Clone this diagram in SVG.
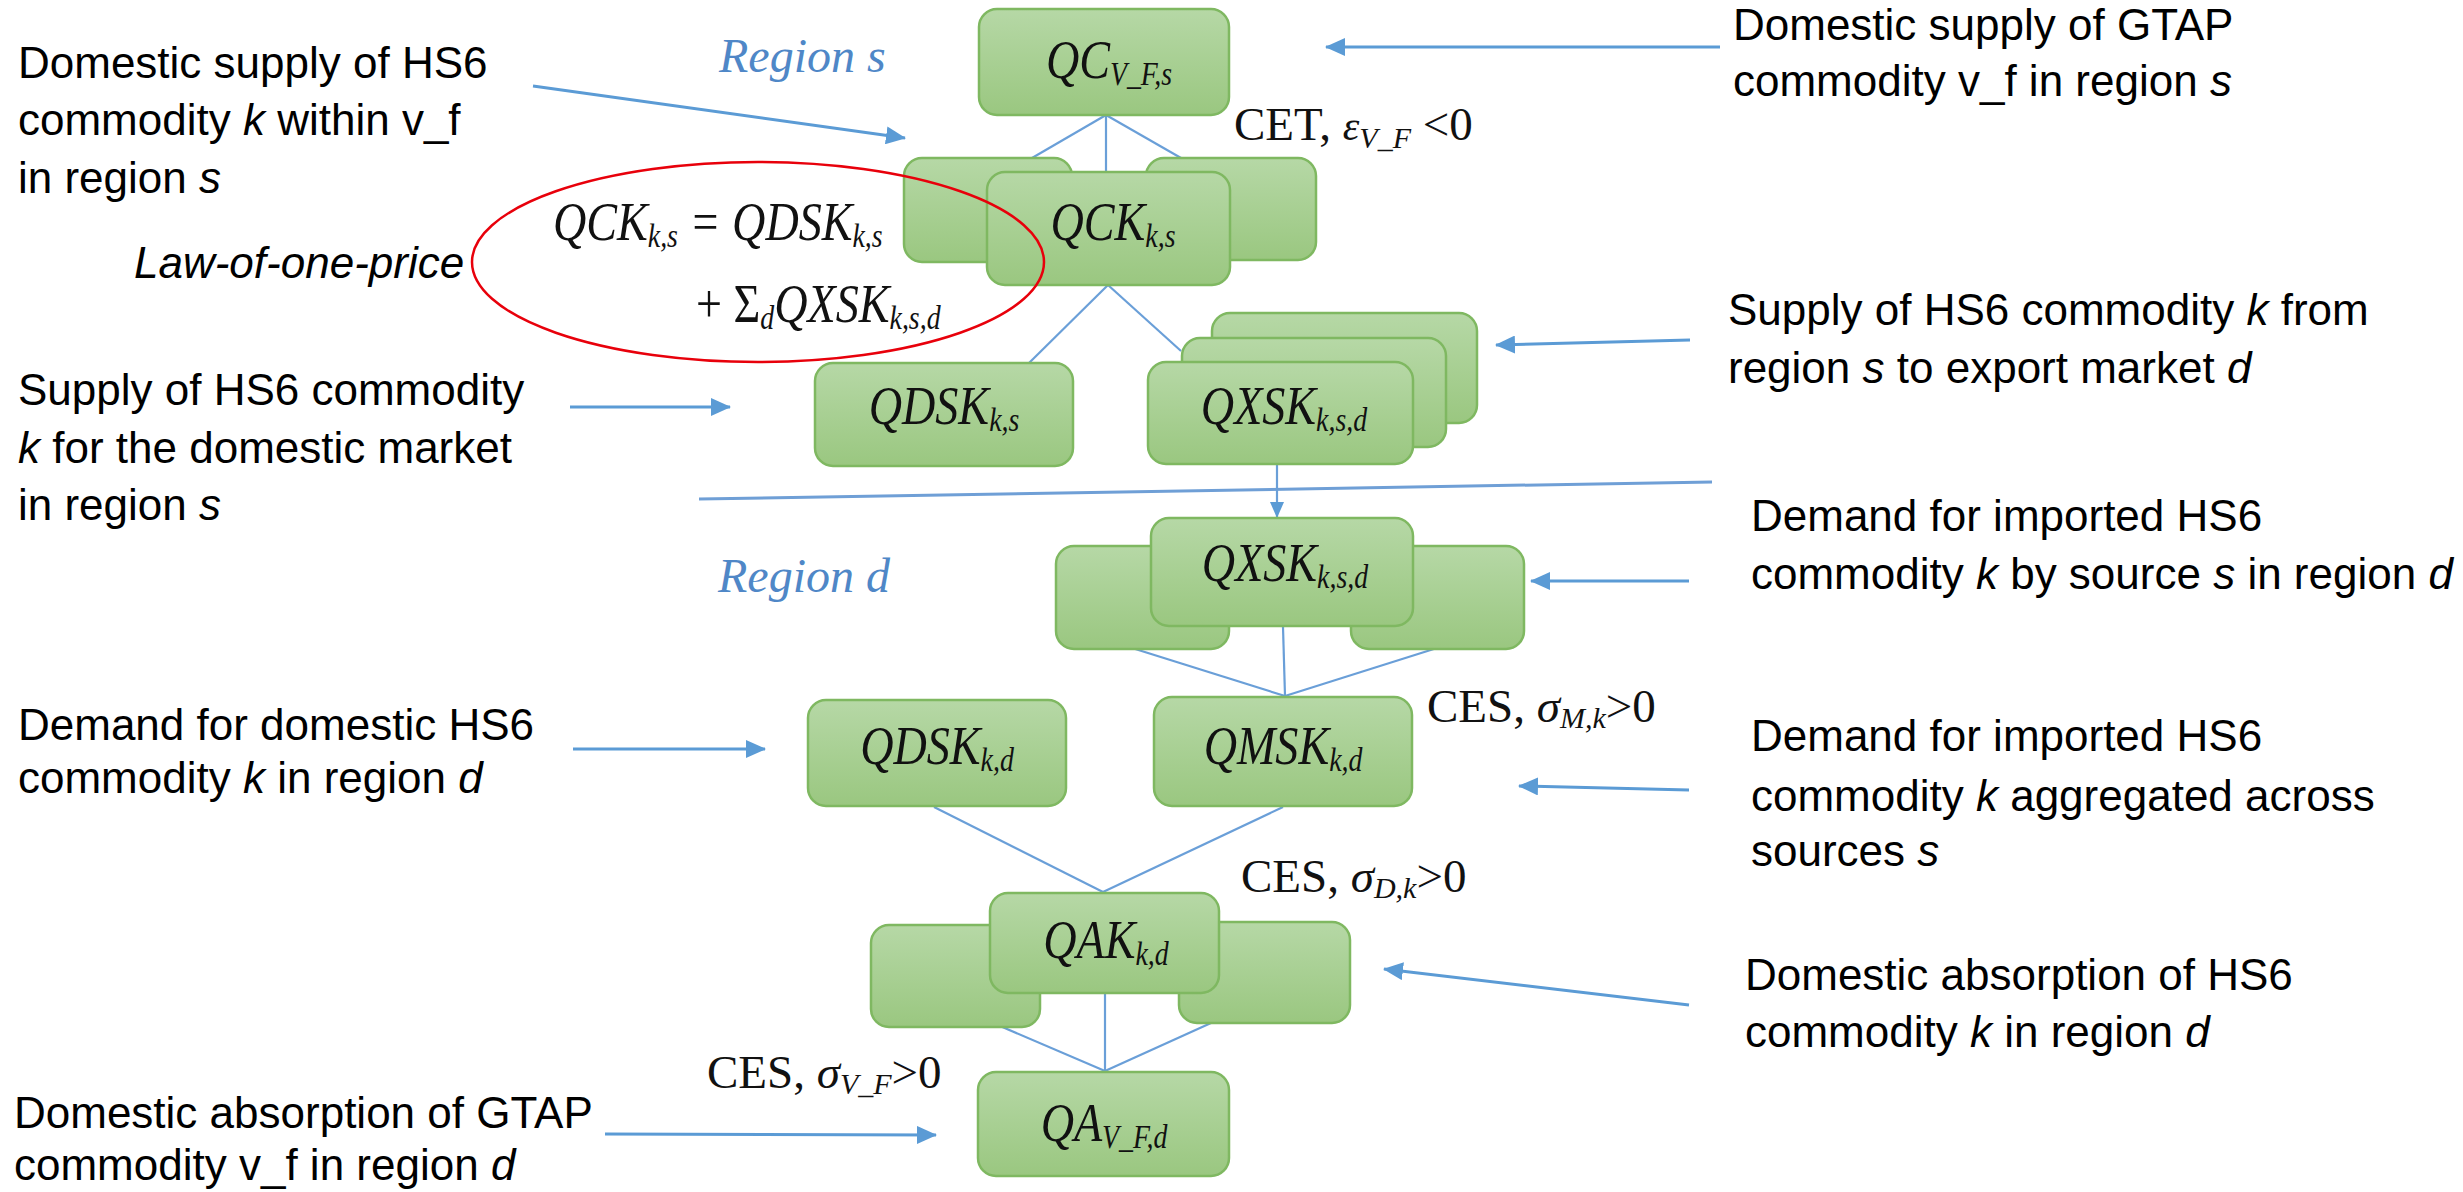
<svg xmlns="http://www.w3.org/2000/svg" width="2463" height="1192" viewBox="0 0 2463 1192">
<defs>
  <linearGradient id="gfill" x1="0" y1="0" x2="0" y2="1">
    <stop offset="0" stop-color="#b6d8a6"/>
    <stop offset="1" stop-color="#9ac780"/>
  </linearGradient>
  <marker id="ah" markerUnits="userSpaceOnUse" markerWidth="20" markerHeight="18" refX="19" refY="9" orient="auto">
    <path d="M0,0 L20,9 L0,18 z" fill="#5b9bd5"/>
  </marker>
  <marker id="ahs" markerUnits="userSpaceOnUse" markerWidth="16" markerHeight="16" refX="15" refY="8" orient="auto">
    <path d="M0,1 L16,8 L0,15 z" fill="#5b9bd5"/>
  </marker>
</defs>
<style>
  .box { fill: url(#gfill); stroke: #7fb861; stroke-width: 2.5; }
  .lbl { font-family: "Liberation Serif", "Times New Roman", serif; font-style: italic; font-size: 53px; fill: #111; }
  .sub { font-size: 32px; }
  .ann { font-family: "Liberation Serif", "Times New Roman", serif; font-size: 47px; fill: #111; }
  .asub { font-size: 30px; font-style: italic; }
  .it { font-style: italic; }
  .body { font-family: "Liberation Sans", Arial, sans-serif; font-size: 44px; fill: #000; }
  .reg { font-family: "Liberation Serif", "Times New Roman", serif; font-style: italic; font-size: 48px; fill: #4f87c7; }
  .arr { stroke: #5b9bd5; stroke-width: 3; fill: none; marker-end: url(#ah); }
  .con { stroke: #6a9fd8; stroke-width: 2.2; fill: none; }
</style>

<rect x="0" y="0" width="2463" height="1192" fill="#ffffff"/>

<!-- divider -->
<line x1="699" y1="499" x2="1712" y2="482" stroke="#6f9fd6" stroke-width="3"/>

<!-- region titles -->
<text class="reg" x="719" y="72">Region s</text>
<text class="reg" x="718" y="592">Region d</text>

<!-- connectors -->
<g id="connectors">
  <line class="con" x1="1106" y1="115" x2="1032" y2="158"/>
  <line class="con" x1="1106" y1="115" x2="1106" y2="172"/>
  <line class="con" x1="1106" y1="115" x2="1181" y2="158"/>
  <line class="con" x1="1108" y1="285" x2="1029" y2="363"/>
  <line class="con" x1="1108" y1="285" x2="1181" y2="351"/>
  <line class="con" x1="1277" y1="464" x2="1277" y2="517" style="marker-end:url(#ahs)"/>
  <line class="con" x1="1132" y1="648" x2="1285" y2="696"/>
  <line class="con" x1="1283" y1="627" x2="1285" y2="696"/>
  <line class="con" x1="1437" y1="648" x2="1285" y2="696"/>
  <line class="con" x1="934" y1="807" x2="1103" y2="892"/>
  <line class="con" x1="1283" y1="807" x2="1103" y2="892"/>
  <line class="con" x1="1000" y1="1026" x2="1105" y2="1071"/>
  <line class="con" x1="1105" y1="994" x2="1105" y2="1071"/>
  <line class="con" x1="1211" y1="1023" x2="1105" y2="1071"/>

  <!-- annotation arrows -->
  <line class="arr" x1="1720" y1="47" x2="1326" y2="47"/>
  <line class="arr" x1="533" y1="86" x2="905" y2="138"/>
  <line class="arr" x1="1690" y1="340" x2="1496" y2="345"/>
  <line class="arr" x1="570" y1="407" x2="730" y2="407"/>
  <line class="arr" x1="1689" y1="581" x2="1531" y2="581"/>
  <line class="arr" x1="573" y1="749" x2="765" y2="749"/>
  <line class="arr" x1="1689" y1="790" x2="1519" y2="786"/>
  <line class="arr" x1="1689" y1="1005" x2="1384" y2="969"/>
  <line class="arr" x1="605" y1="1134" x2="936" y2="1135"/>
</g>

<!-- nodes -->
<g id="node-qc">
  <rect class="box" x="979" y="9" width="250" height="106" rx="18"/>
  <text class="lbl" transform="translate(1109,78) scale(0.87,1.05)" text-anchor="middle">QC<tspan class="sub" dy="7">V_F,s</tspan></text>
</g>

<g id="node-qck">
  <rect class="box" x="904" y="158" width="168" height="104" rx="18"/>
  <rect class="box" x="1146" y="158" width="170" height="102" rx="18"/>
  <rect class="box" x="987" y="172" width="243" height="113" rx="18"/>
  <text class="lbl" transform="translate(1113,240) scale(0.87,1.05)" text-anchor="middle">QCK<tspan class="sub" dy="7">k,s</tspan></text>
</g>

<g id="node-qdsk-s">
  <rect class="box" x="815" y="363" width="258" height="103" rx="18"/>
  <text class="lbl" transform="translate(944,424) scale(0.87,1.05)" text-anchor="middle">QDSK<tspan class="sub" dy="7">k,s</tspan></text>
</g>

<g id="node-qxsk-s">
  <rect class="box" x="1212" y="313" width="265" height="110" rx="18"/>
  <rect class="box" x="1182" y="338" width="264" height="109" rx="18"/>
  <rect class="box" x="1148" y="362" width="265" height="102" rx="18"/>
  <text class="lbl" transform="translate(1284,424) scale(0.87,1.05)" text-anchor="middle">QXSK<tspan class="sub" dy="7">k,s,d</tspan></text>
</g>

<g id="node-qxsk-d">
  <rect class="box" x="1056" y="546" width="173" height="103" rx="18"/>
  <rect class="box" x="1351" y="546" width="173" height="103" rx="18"/>
  <rect class="box" x="1151" y="518" width="262" height="108" rx="18"/>
  <text class="lbl" transform="translate(1285,581) scale(0.87,1.05)" text-anchor="middle">QXSK<tspan class="sub" dy="7">k,s,d</tspan></text>
</g>

<g id="node-qdsk-d">
  <rect class="box" x="808" y="700" width="258" height="106" rx="18"/>
  <text class="lbl" transform="translate(937,764) scale(0.87,1.05)" text-anchor="middle">QDSK<tspan class="sub" dy="7">k,d</tspan></text>
</g>

<g id="node-qmsk-d">
  <rect class="box" x="1154" y="697" width="258" height="109" rx="18"/>
  <text class="lbl" transform="translate(1283,764) scale(0.87,1.05)" text-anchor="middle">QMSK<tspan class="sub" dy="7">k,d</tspan></text>
</g>

<g id="node-qak">
  <rect class="box" x="871" y="925" width="169" height="102" rx="18"/>
  <rect class="box" x="1179" y="922" width="171" height="101" rx="18"/>
  <rect class="box" x="990" y="893" width="229" height="100" rx="18"/>
  <text class="lbl" transform="translate(1106,958) scale(0.87,1.05)" text-anchor="middle">QAK<tspan class="sub" dy="7">k,d</tspan></text>
</g>

<g id="node-qa">
  <rect class="box" x="978" y="1072" width="251" height="104" rx="18"/>
  <text class="lbl" transform="translate(1104,1141) scale(0.87,1.05)" text-anchor="middle">QA<tspan class="sub" dy="7">V_F,d</tspan></text>
</g>

<!-- law of one price -->
<g id="law-of-one-price">
  <ellipse cx="758" cy="262" rx="286" ry="100" fill="none" stroke="#e8000b" stroke-width="2.5"/>
  <text class="lbl" transform="translate(553,240) scale(0.87,1.05)">QCK<tspan class="sub" dy="7">k,s</tspan><tspan dy="-7"> = QDSK</tspan><tspan class="sub" dy="7">k,s</tspan></text>
  <text class="lbl" transform="translate(696,322) scale(0.87,1.05)"><tspan font-style="normal">+ Σ</tspan><tspan class="sub" dy="7">d</tspan><tspan dy="-7">QXSK</tspan><tspan class="sub" dy="7">k,s,d</tspan></text>
  <text class="body it" x="134" y="278">Law-of-one-price</text>
</g>

<!-- elasticity annotations -->
<text class="ann" x="1234" y="140">CET, <tspan class="it" font-size="42">ε</tspan><tspan class="asub" dy="8">V_F</tspan><tspan dy="-8"> &lt;0</tspan></text>
<text class="ann" x="1427" y="722">CES, <tspan class="it">σ</tspan><tspan class="asub" dy="6">M,k</tspan><tspan dy="-6">&gt;0</tspan></text>
<text class="ann" x="1241" y="892">CES, <tspan class="it">σ</tspan><tspan class="asub" dy="6">D,k</tspan><tspan dy="-6">&gt;0</tspan></text>
<text class="ann" x="707" y="1088">CES, <tspan class="it">σ</tspan><tspan class="asub" dy="6">V_F</tspan><tspan dy="-6">&gt;0</tspan></text>

<!-- descriptions left -->
<text class="body" x="18" y="78">Domestic supply of HS6</text>
<text class="body" x="18" y="135">commodity <tspan class="it">k</tspan> within v_f</text>
<text class="body" x="18" y="193">in region <tspan class="it">s</tspan></text>

<text class="body" x="18" y="405">Supply of HS6 commodity</text>
<text class="body" x="18" y="463"><tspan class="it">k</tspan> for the domestic market</text>
<text class="body" x="18" y="520">in region <tspan class="it">s</tspan></text>

<text class="body" x="18" y="740">Demand for domestic HS6</text>
<text class="body" x="18" y="793">commodity <tspan class="it">k</tspan> in region <tspan class="it">d</tspan></text>

<text class="body" x="14" y="1128">Domestic absorption of GTAP</text>
<text class="body" x="14" y="1180">commodity v_f in region <tspan class="it">d</tspan></text>

<!-- descriptions right -->
<text class="body" x="1733" y="40">Domestic supply of GTAP</text>
<text class="body" x="1733" y="96">commodity v_f in region <tspan class="it">s</tspan></text>

<text class="body" x="1728" y="325">Supply of HS6 commodity <tspan class="it">k</tspan> from</text>
<text class="body" x="1728" y="383">region <tspan class="it">s</tspan> to export market <tspan class="it">d</tspan></text>

<text class="body" x="1751" y="531">Demand for imported HS6</text>
<text class="body" x="1751" y="589">commodity <tspan class="it">k</tspan> by source <tspan class="it">s</tspan> in region <tspan class="it">d</tspan></text>

<text class="body" x="1751" y="751">Demand for imported HS6</text>
<text class="body" x="1751" y="811">commodity <tspan class="it">k</tspan> aggregated across</text>
<text class="body" x="1751" y="866">sources <tspan class="it">s</tspan></text>

<text class="body" x="1745" y="990">Domestic absorption of HS6</text>
<text class="body" x="1745" y="1047">commodity <tspan class="it">k</tspan> in region <tspan class="it">d</tspan></text>
</svg>
